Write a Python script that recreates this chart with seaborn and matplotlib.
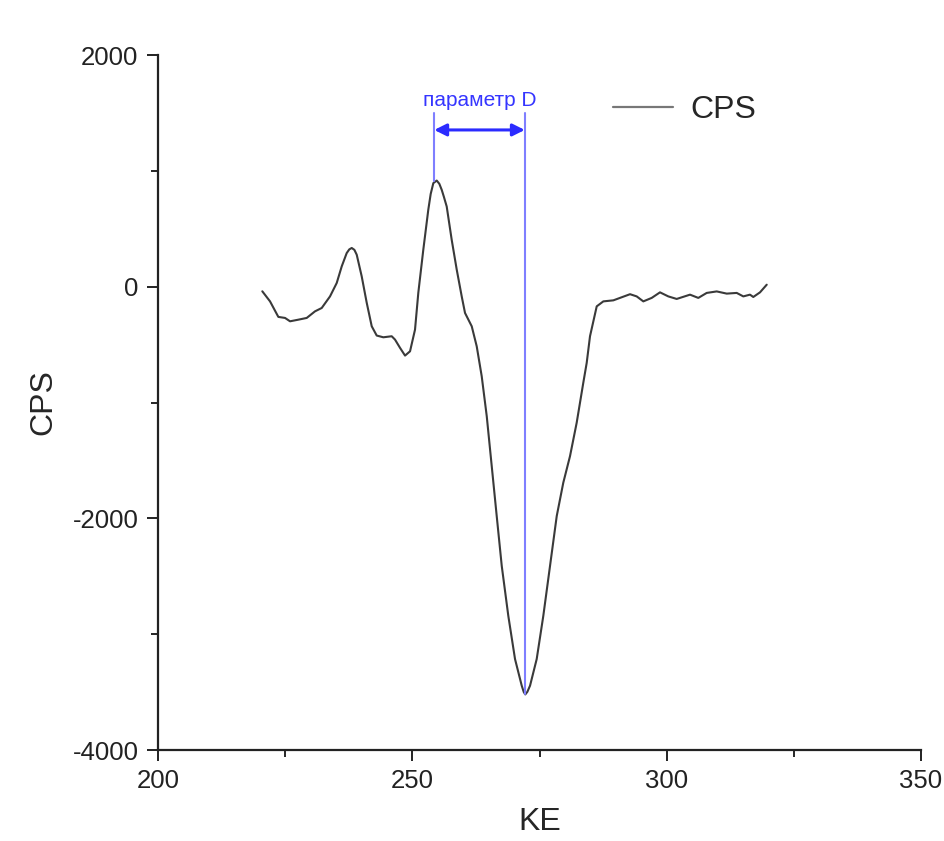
import numpy as np
import pandas as pd
import seaborn as sns
import matplotlib
matplotlib.use("Agg")
import matplotlib.pyplot as plt

# Kinetic energy (eV) and differentiated counts per second
ke = [220.50, 222.02, 223.65, 224.97, 225.95, 227.58, 229.23, 230.86, 232.18,
      233.81, 235.13, 236.11, 237.09, 237.60, 238.08, 238.60, 239.06, 240.04,
      241.03, 242.01, 242.99, 244.29, 245.94, 246.59, 247.57, 248.56, 249.54,
      250.52, 251.17, 252.15, 253.13, 253.60, 254.12, 254.79, 255.30, 255.77,
      256.20, 256.75, 257.73, 258.72, 259.70, 260.35, 261.67, 262.65, 263.63,
      264.62, 265.60, 266.58, 267.57, 268.86, 270.18, 271.50, 271.90, 272.20,
      272.60, 273.13, 274.44, 275.74, 277.06, 278.38, 279.67, 280.99, 282.30,
      283.60, 284.27, 284.92, 286.24, 287.54, 289.51, 292.79, 294.10, 295.40,
      297.05, 298.68, 300.31, 301.96, 304.58, 306.21, 307.86, 309.83, 311.80,
      313.76, 315.06, 316.37, 317.02, 318.34, 319.66]
cps = [-40, -127, -261, -270, -299, -285, -270, -213, -184,
       -84, 32, 175, 290, 322, 334, 318, 276, 89,
       -140, -342, -422, -437, -428, -457, -528, -595, -558,
       -371, -52, 319, 664, 800, 894, 916, 888, 836,
       775, 692, 405, 147, -84, -227, -342, -515, -773,
       -1118, -1549, -1980, -2411, -2842, -3215, -3445, -3500, -3520,
       -3498, -3445, -3215, -2842, -2411, -1980, -1692, -1463, -1175,
       -830, -658, -428, -170, -127, -118, -65, -84, -127,
       -97, -49, -84, -106, -69, -97, -54, -41, -60,
       -54, -84, -69, -89, -49, 17]

# Parameter D: distance between the positive maximum and the negative minimum
d_left = 254.3
d_right = 272.1
d_peak = 916
d_min = -3520
d_label = "параметр D"

df = pd.DataFrame({"KE": ke, "CPS": cps})

sns.set_style("ticks")
plt.rcParams["font.family"] = ["Liberation Sans", "DejaVu Sans"]
plt.rcParams["axes.unicode_minus"] = False

fig = plt.figure(figsize=(9.44, 8.41), dpi=100)
ax = fig.add_axes([0.1674, 0.1082, 0.8083, 0.8264])

sns.lineplot(data=df, x="KE", y="CPS", ax=ax, estimator=None, sort=False,
             color="#3a3a3a", linewidth=1.5, label="CPS")

# Marker lines and arrow for parameter D
ax.plot([d_left, d_left], [d_peak, 1500], color="#7f7fff", lw=1.5)
ax.plot([d_right, d_right], [d_min, 1500], color="#7f7fff", lw=1.5)
ax.annotate("", xy=(d_right, 1353), xytext=(d_left, 1353),
            arrowprops=dict(arrowstyle="<|-|>", color="#2b2bff", lw=2.2,
                            mutation_scale=18, shrinkA=0, shrinkB=0))
ax.text((d_left + d_right) / 2, 1610, d_label, color="#3535ff",
        fontsize=15, ha="center", va="center")

ax.set_xlim(200, 350)
ax.set_ylim(-4000, 2000)
ax.set_xticks([200, 250, 300, 350])
ax.set_xticks([225, 275, 325], minor=True)
ax.set_yticks([-4000, -2000, 0, 2000])
ax.set_yticks([-3000, -1000, 1000], minor=True)

ax.tick_params(axis="both", which="major", direction="out", length=8, width=1.4,
               labelsize=18.5, colors="#222222", pad=6)
ax.tick_params(axis="both", which="minor", direction="out", length=5, width=1.4)
for side in ("left", "bottom"):
    ax.spines[side].set_linewidth(1.6)
    ax.spines[side].set_color("#222222")
sns.despine(ax=ax)

ax.set_xlabel("KE", fontsize=23, labelpad=10)
ax.set_ylabel("CPS", fontsize=23, labelpad=10)

leg = ax.legend(loc="center left", bbox_to_anchor=(0.596, 0.921),
                frameon=False, fontsize=23, handlelength=1.87,
                handletextpad=0.55, borderpad=0, borderaxespad=0)
for h in leg.get_lines():
    h.set_color("#777777")
    h.set_linewidth(1.6)

fig.savefig("out.png", dpi=100)
